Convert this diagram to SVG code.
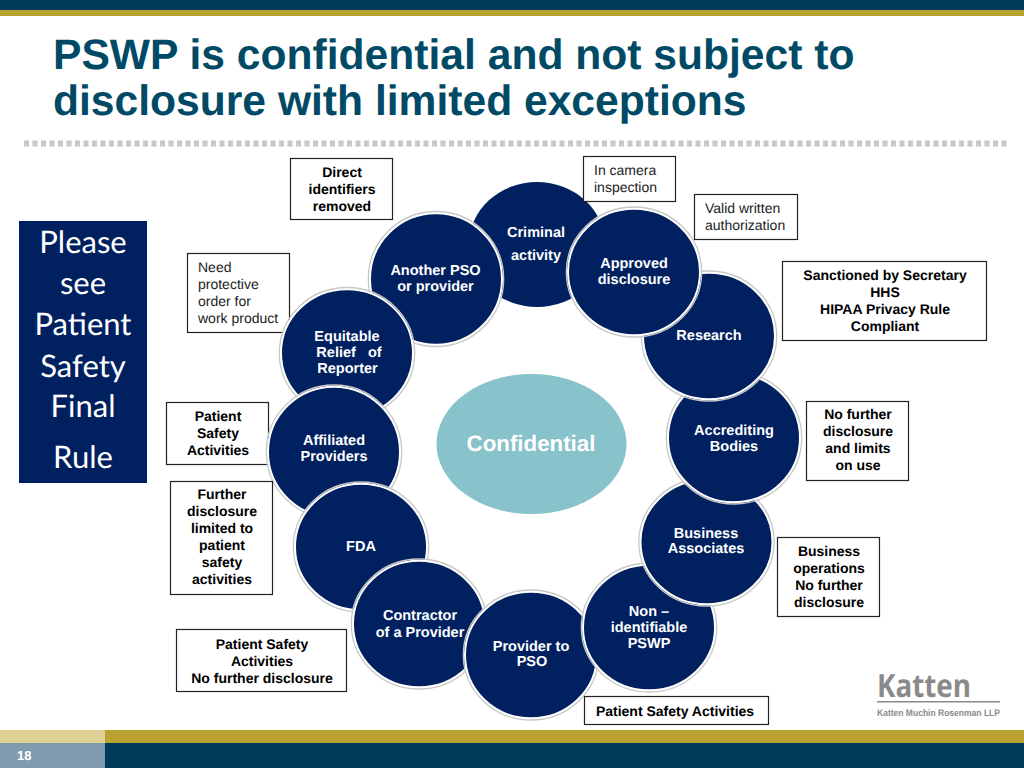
<svg xmlns="http://www.w3.org/2000/svg" width="1024" height="768" viewBox="0 0 1024 768">
<style>
text{font-family:"Liberation Sans",Arial,sans-serif;text-rendering:geometricPrecision;white-space:pre}
.c{fill:#002060;stroke:#fff;stroke-width:2}
.r{fill:none;stroke:#c8c8c8;stroke-width:1.300}
.n{fill:#fff;font-size:14.500px;font-weight:700;text-anchor:middle}
.b{fill:#fff;stroke:#222;stroke-width:1.200}
.t{fill:#000;font-size:14px;font-weight:700;text-anchor:middle}
.p{fill:#222;font-size:14px}
.s{fill:#fff;font-size:31px;text-anchor:middle;font-family:Lato,"Open Sans",sans-serif}
</style>
<rect width="1024" height="768" fill="#fff"/>
<rect width="1024" height="10" fill="#003b5c"/>
<rect y="10" width="1024" height="6" fill="#b9a22f"/>
<rect y="730" width="1024" height="13" fill="#b9a22f"/>
<rect y="743" width="1024" height="25" fill="#003b5c"/>
<rect y="730" width="105" height="13" fill="#e0d296"/>
<rect y="743" width="105" height="25" fill="#7f9bae"/>
<text x="17" y="760" font-size="13" font-weight="700" fill="#fff">18</text>
<text x="53" y="69" font-size="42.600" font-weight="700" fill="#004a66">PSWP is confidential and not subject to</text>
<text x="53" y="115" font-size="42.600" font-weight="700" fill="#004a66">disclosure with limited exceptions</text>
<line x1="24" y1="143.500" x2="1010" y2="143.500" stroke="#c8c8c8" stroke-width="6" stroke-dasharray="5 3.500"/>
<g id="please-see">
<rect x="19" y="221" width="128" height="262" fill="#002060"/>
<text class="s" x="83" y="253">Please</text><text class="s" x="83" y="294">see</text><text class="s" x="83" y="335">Patient</text><text class="s" x="83" y="377">Safety</text><text class="s" x="83" y="417">Final</text><text class="s" x="83" y="468">Rule</text>
</g>
<g id="connectors"></g>
<g id="box-order"><rect class="b" x="187.500" y="253.500" width="102" height="79"/><text class="p" x="198" y="272">Need</text><text class="p" x="198" y="289">protective</text><text class="p" x="198" y="306">order for</text><text class="p" x="198" y="323">work product</text></g>
<g id="box-psa1"><rect class="b" x="166.500" y="402.500" width="102" height="62"/><text class="t" x="218" y="421">Patient</text><text class="t" x="218" y="438">Safety</text><text class="t" x="218" y="455">Activities</text></g>
<g id="confidential"><ellipse cx="531.500" cy="444" rx="95" ry="70" fill="#88c2cb"/><text x="531" y="451" font-size="22.300" font-weight="700" fill="#fff" text-anchor="middle">Confidential</text></g>
<g id="criminal"><ellipse cx="537" cy="244.500" rx="68" ry="62.500" fill="#002060"/><text class="n" x="536" y="237">Criminal</text><text class="n" x="536" y="260">activity</text></g>
<g id="another"><ellipse class="c" cx="436" cy="279" rx="66" ry="65.800"/><ellipse class="r" cx="436" cy="279" rx="67.700" ry="67.500"/><text class="n" x="435.500" y="275">Another PSO</text><text class="n" x="435.500" y="291">or provider</text></g>
<g id="equitable"><ellipse class="c" cx="347" cy="353" rx="66" ry="63.800"/><ellipse class="r" cx="347" cy="353" rx="67.700" ry="65.500"/><text class="n" x="347" y="341">Equitable</text><text class="n" x="349" y="357">Relief   of</text><text class="n" x="347.500" y="373">Reporter</text></g>
<g id="affiliated"><ellipse class="c" cx="334" cy="452" rx="66" ry="65.300"/><ellipse class="r" cx="334" cy="452" rx="67.700" ry="67"/><text class="n" x="334" y="445">Affiliated</text><text class="n" x="334" y="461">Providers</text></g>
<g id="fda"><ellipse class="c" cx="361" cy="547" rx="66" ry="63.300"/><ellipse class="r" cx="361" cy="547" rx="67.700" ry="65"/><text class="n" x="361" y="551">FDA</text></g>
<g id="contractor"><ellipse class="c" cx="419" cy="624" rx="66" ry="63.300"/><ellipse class="r" cx="419" cy="624" rx="67.700" ry="65"/><text class="n" x="420" y="620">Contractor</text><text class="n" x="420" y="637">of a Provider</text></g>
<g id="provider"><ellipse class="c" cx="531" cy="655" rx="66" ry="63.300"/><ellipse class="r" cx="531" cy="655" rx="67.700" ry="65"/><text class="n" x="531" y="651">Provider to</text><text class="n" x="532" y="666">PSO</text></g>
<g id="nonid"><ellipse class="c" cx="649" cy="627.500" rx="66" ry="62.800"/><ellipse class="r" cx="649" cy="627.500" rx="67.700" ry="64.500"/><text class="n" x="649" y="616">Non –</text><text class="n" x="649" y="632">identifiable</text><text class="n" x="649" y="648">PSWP</text></g>
<g id="business"><ellipse class="c" cx="706.500" cy="542" rx="66" ry="62.300"/><ellipse class="r" cx="706.500" cy="542" rx="67.700" ry="64"/><text class="n" x="706" y="538">Business</text><text class="n" x="706" y="553">Associates</text></g>
<g id="accrediting"><ellipse class="c" cx="734" cy="438" rx="66" ry="64.300"/><ellipse class="r" cx="734" cy="438" rx="67.700" ry="66"/><text class="n" x="734" y="435">Accrediting</text><text class="n" x="734" y="451">Bodies</text></g>
<g id="research"><ellipse class="c" cx="709" cy="336" rx="66" ry="63.300"/><ellipse class="r" cx="709" cy="336" rx="67.700" ry="65"/><text class="n" x="709" y="340">Research</text></g>
<g id="approved"><ellipse class="c" cx="634" cy="272" rx="66" ry="63.300"/><ellipse class="r" cx="634" cy="272" rx="67.700" ry="65"/><text class="n" x="634" y="268">Approved</text><text class="n" x="634" y="284">disclosure</text></g>
<g id="box-direct"><rect class="b" x="290.500" y="158.500" width="102" height="61"/><text class="t" x="342" y="177">Direct</text><text class="t" x="342" y="194">identifiers</text><text class="t" x="342" y="211">removed</text></g>
<g id="box-camera"><rect class="b" x="583.500" y="156.500" width="92" height="45"/><text class="p" x="594" y="175">In camera</text><text class="p" x="594" y="192">inspection</text></g>
<g id="box-valid"><rect class="b" x="694.500" y="194.500" width="103" height="45"/><text class="p" x="705" y="213">Valid written</text><text class="p" x="705" y="230">authorization</text></g>
<g id="box-secretary"><rect class="b" x="782.500" y="261.500" width="204" height="79"/><text class="t" x="885" y="280">Sanctioned by Secretary</text><text class="t" x="885" y="297">HHS</text><text class="t" x="885" y="314">HIPAA Privacy Rule</text><text class="t" x="885" y="331">Compliant</text></g>
<g id="box-nofurther"><rect class="b" x="806.500" y="401.500" width="102" height="79"/><text class="t" x="858" y="419">No further</text><text class="t" x="858" y="436">disclosure</text><text class="t" x="858" y="453">and limits</text><text class="t" x="858" y="470">on use</text></g>
<g id="box-limited"><rect class="b" x="170.500" y="481.500" width="102" height="113"/><text class="t" x="222" y="499">Further</text><text class="t" x="222" y="516">disclosure</text><text class="t" x="222" y="533">limited to</text><text class="t" x="222" y="550">patient</text><text class="t" x="222" y="567">safety</text><text class="t" x="222" y="584">activities</text></g>
<g id="box-psa2"><rect class="b" x="176.500" y="629.500" width="170" height="62"/><text class="t" x="262" y="649">Patient Safety</text><text class="t" x="262" y="666">Activities</text><text class="t" x="262" y="683">No further disclosure</text></g>
<g id="box-bizops"><rect class="b" x="777.500" y="537.500" width="102" height="79"/><text class="t" x="829" y="556">Business</text><text class="t" x="829" y="573">operations</text><text class="t" x="829" y="590">No further</text><text class="t" x="829" y="607">disclosure</text></g>
<g id="box-psa3"><rect class="b" x="584.500" y="696.500" width="184" height="28"/><text class="t" x="675" y="716">Patient Safety Activities</text></g>
<g id="logo" fill="#8a8a8a"><text x="877" y="697" font-size="32" font-weight="700" fill="#8a8a8a" textLength="94" lengthAdjust="spacingAndGlyphs" style="font-family:'Open Sans',sans-serif">Katten</text><rect x="877" y="701" width="123" height="1.500"/><text x="877" y="716" font-size="9.500" font-weight="700" fill="#8a8a8a" textLength="123" lengthAdjust="spacingAndGlyphs">Katten Muchin Rosenman LLP</text></g>
</svg>
